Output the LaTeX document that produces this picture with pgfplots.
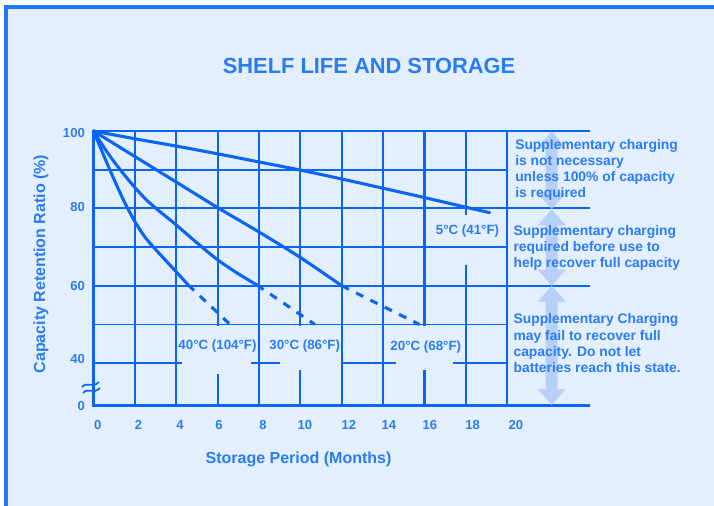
\documentclass[border=0pt]{standalone}
\usepackage{pgfplots}
\pgfplotsset{compat=1.18}
\usepackage{fontspec}
\setmainfont{Liberation Sans}
\definecolor{bgblue}{HTML}{E4EFFE}
\definecolor{borderblue}{HTML}{1F77FF}
\definecolor{gridblue}{HTML}{0A64F5}
\definecolor{textblue}{HTML}{2A7CF4}
\definecolor{arrowblue}{HTML}{AECBF6}
\tikzset{
  hg/.style={draw=gridblue, line width=1.4pt},
  vg/.style={draw=gridblue, line width=1.6pt},
  dcurve/.style={draw=gridblue, line width=2.3pt, mark=none, dash pattern=on 6pt off 6pt},
}
\pgfplotsset{curve/.style={draw=gridblue, line width=2.3pt, line join=round, line cap=round, mark=none, smooth}}
\begin{document}
\begin{tikzpicture}
\begin{scope}[x=0.75pt,y=-0.75pt]
\fill[white] (0,0) rectangle (714,506);
\path[use as bounding box] (0,0) rectangle (714,506);
\fill[borderblue] (4,5) rectangle (714,506);
\fill[bgblue] (8,9) rectangle (714,506);
\end{scope}
\begin{axis}[
  at={(70.125pt,-304.275pt)}, anchor=south west,
  scale only axis, width=372.375pt, height=206.025pt,
  xmin=0, xmax=24, ymin=29, ymax=100,
  axis line style={draw=none}, major tick length=0pt,
  xtick={0.2,2.18,4.18,6.07,8.19,10.22,12.35,14.28,16.26,18.33,20.42},
  xticklabels={0,2,4,6,8,10,12,14,16,18,20},
  ytick={29,41.07,60,80.36,99.4},
  yticklabels={0,40,60,80,100},
  tick label style={font=\bfseries\fontsize{9.8}{11}\selectfont, text=textblue},
  /pgf/number format/assume math mode=true,
  xticklabel style={anchor=base, yshift=-17.7pt},
  yticklabel style={anchor=east, xshift=-3pt},
  clip=false,
]
% horizontal grid
\draw[hg] (0,100) -- (24,100);
\draw[hg] (0,90) -- (20,90);
\draw[hg] (0,80) -- (24,80);
\draw[hg] (0,70) -- (20,70);
\draw[hg] (0,60) -- (24,60);
\draw[hg] (0,50) -- (20,50);
\draw[hg] (0,40) -- (4.28,40);
\draw[hg] (7.61,40) -- (9.02,40);
\draw[hg] (12.01,40) -- (14.62,40);
\draw[hg] (17.38,40) -- (20,40);
% vertical grid
\draw[vg] (2,29) -- (2,100);
\draw[vg] (4,29) -- (4,100);
\draw[vg] (6,100) -- (6,49.6);
\draw[vg] (6,37.2) -- (6,29);
\draw[vg] (8,29) -- (8,100);
\draw[vg] (10,100) -- (10,49.6);
\draw[vg] (10,38.2) -- (10,29);
\draw[vg] (12,29) -- (12,100);
\draw[vg] (14,29) -- (14,100);
\draw[vg] (16,100) -- (16,49.6);
\draw[vg] (16,38.2) -- (16,29);
\draw[vg] (18,100) -- (18,78.2);
\draw[vg] (18,65.4) -- (18,29);
\draw[vg] (20,29) -- (20,100);
% axes
\draw[draw=gridblue, line width=2.3pt] (0,100) -- (0,29) -- (24,29);
% 5 C
\addplot[curve] coordinates {(0,100)(2,98)(4,96.1)(6,94.1)(8,92)(10,89.9)(12,87.6)(14,85.2)(16,82.8)(18,80.3)(19.15,78.9)};
% 20 C
\addplot[curve] coordinates {(0,100)(2,93.4)(4,86.8)(6,80.2)(8,73.9)(10,67.3)(12,60)};
\addplot[dcurve] coordinates {(12,60)(15.75,50)};
% 30 C
\addplot[curve] coordinates {(0,100)(0.5,95.8)(1,92)(1.5,88.6)(2,85.4)(2.5,82.5)(3,80.1)(4,75.7)(5,71.1)(6,66.7)(7,63.1)(7.9,60.2)};
\addplot[dcurve] coordinates {(7.9,60.2)(10.7,50)};
% 40 C
\addplot[curve] coordinates {(0,100)(0.5,93.6)(1,87.4)(1.5,81.6)(2,76.6)(2.5,72.5)(3,69.4)(3.5,66.5)(4,63.6)(4.58,60.2)};
\addplot[dcurve] coordinates {(4.58,60.2)(6.6,50)};
\end{axis}
\begin{scope}[x=0.75pt,y=-0.75pt]
% arrows
\foreach \ya/\yb in {131.5/209.3, 209.3/285.7, 285.7/405}{
  \fill[arrowblue, opacity=0.85] (551.7,\ya) -- (565.7,\ya+16) -- (557.7,\ya+16) -- (557.7,\yb-16) -- (565.7,\yb-16) -- (551.7,\yb) -- (537.7,\yb-16) -- (545.7,\yb-16) -- (545.7,\ya+16) -- (537.7,\ya+16) -- cycle;
}
% break symbol
\draw[gridblue, line width=1.3pt] (82,387) .. controls (87,381) and (92,389) .. (99,382);
\draw[gridblue, line width=1.3pt] (83,393) .. controls (88,387) and (93,395) .. (100,388);
% texts
\begin{scope}[every node/.style={text=textblue, inner sep=0pt, font=\bfseries\fontsize{10.4}{12}\selectfont}]
\node[anchor=base west] at (515,149.3) {Supplementary charging};
\node[anchor=base west] at (515,165.7) {is not necessary};
\node[anchor=base west] at (515,181.7) {unless 100\% of capacity};
\node[anchor=base west] at (515,197.3) {is required};
\node[anchor=base west] at (513.3,235) {Supplementary charging};
\node[anchor=base west] at (513.3,251.7) {required before use to};
\node[anchor=base west] at (513.3,267.7) {help recover full capacity};
\node[anchor=base west] at (513.3,323.3) {Supplementary Charging};
\node[anchor=base west] at (513.3,340) {may fail to recover full};
\node[anchor=base west] at (513.3,356) {capacity. Do not let};
\node[anchor=base west] at (513.3,372.7) {batteries reach this state.};
\end{scope}
\begin{scope}[every node/.style={text=textblue, inner sep=0pt, font=\bfseries\fontsize{10}{12}\selectfont}]
\node[anchor=base] at (467.5,234.3) {5°C (41°F)};
\node[anchor=base] at (217.5,349.5) {40°C (104°F)};
\node[anchor=base] at (304.7,349.5) {30°C (86°F)};
\node[anchor=base] at (425.8,350) {20°C (68°F)};
\end{scope}
\node[anchor=base, text=textblue, inner sep=0pt, font=\bfseries\fontsize{16.4}{18}\selectfont] at (369,74) {SHELF LIFE AND STORAGE};
\node[anchor=base, text=textblue, inner sep=0pt, font=\bfseries\fontsize{12}{14}\selectfont] at (298.5,463.5) {Storage Period (Months)};
\node[anchor=base, rotate=90, text=textblue, inner sep=0pt, font=\bfseries\fontsize{12}{14}\selectfont] at (45,264) {Capacity Retention Ratio (\%)};
\end{scope}
\end{tikzpicture}
\end{document}
